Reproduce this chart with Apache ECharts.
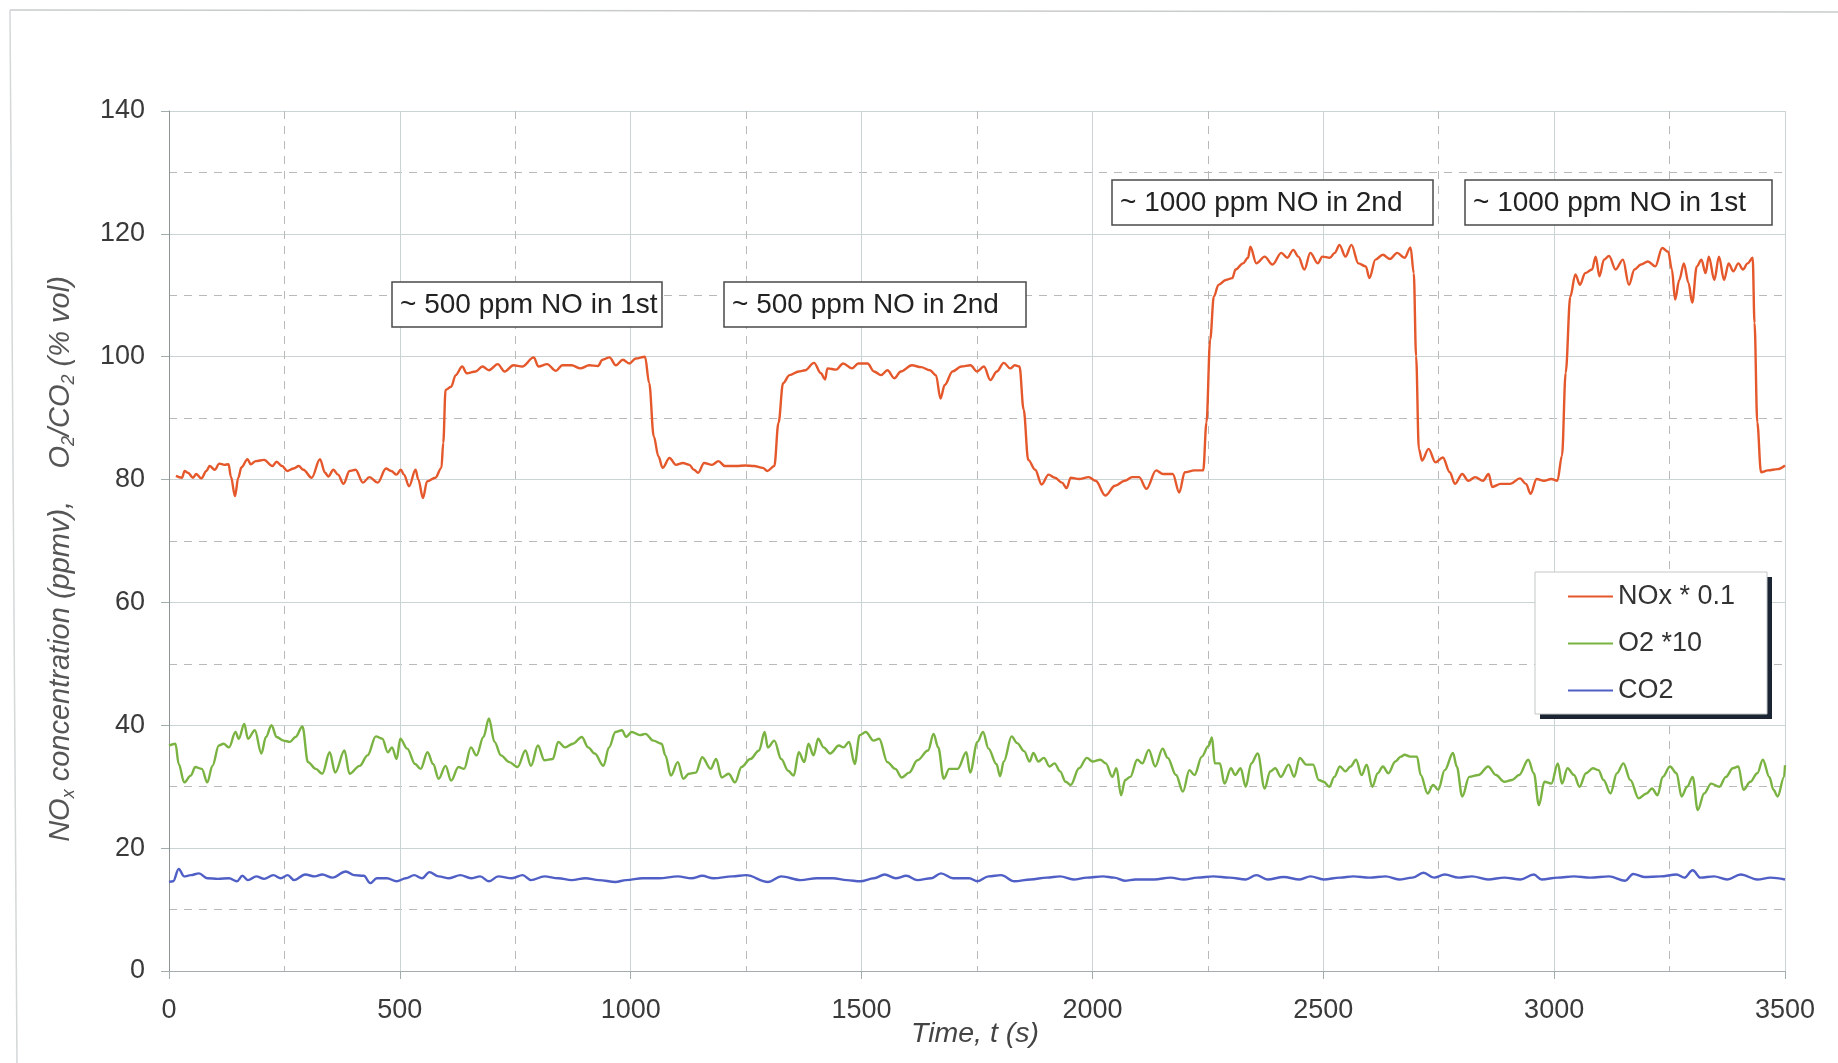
<!DOCTYPE html>
<html>
<head>
<meta charset="utf-8">
<title>NOx, O2 and CO2 concentration versus time</title>
<script src="https://cdn.jsdelivr.net/npm/echarts@6/dist/echarts.min.js"></script>
<style>
  html, body { margin: 0; padding: 0; background: #ffffff; }
  #chart { width: 1838px; height: 1063px; }
</style>
</head>
<body>
<div id="chart"></div>
<script>
// ---- data: [time (s), value] ----
const noxTime = [15,28,34,41,52,59,70,81,88,99,109,120,129,134,143,150,157,170,177,188,206,224,233,245,256,270,281,291,309,327,338,345,356,366,378,391,404,420,434,452,470,481,493,502,509,520,534,540,550,559,577,590,
  594,599,611,621,635,645,664,679,693,712,727,746,765,790,800,819,838,852,872,891,910,929,939,954,968,983,997,1011,1031,1040,1050,1060,1069,1084,1098,1113,1127,1137,1146,1159,1176,1190,1204,1229,1248,1267,1286,1296,1311,1320,1330,1344,1364,1378,1397,1412,1421,1426,1445,1460,1479,1493,1513,1527,1542,1556,1571,1585,1609,1629,1648,1661,1671,1680,1697,1716,1736,1750,1765,1779,1793,1808,1822,1832,1842,1851,1861,1876,1890,1905,1919,1934,1944,1953,
  1971,1992,2007,2028,2049,2070,2086,2101,2117,2138,2153,2174,2188,2200,2221,2240,2247,2255,2263,2273,2289,2303,2310,2326,2337,2342,2355,2373,2390,2409,2422,2435,2446,2459,2472,2488,2498,2514,2525,2535,2548,2561,2576,2592,2600,2613,2629,2644,2660,2676,2689,2696,2701,2707,2714,2728,2743,2759,2774,2785,2801,2814,2829,2846,2858,2866,2884,2905,2926,2939,2949,2962,2978,2994,3007,3017,3025,3035,3046,3056,3067,3082,3090,3098,3108,3119,3133,3149,3162,3174,3188,3203,3219,3234,3247,3255,3262,3271,3281,3291,3299,3309,3319,3328,3335,3347,3357,3368,3378,3388,3399,3409,3419,3430,3434,3440,3448,3463,3484,3500];
const noxValue = [80.6,80.3,81.4,81.1,80.3,80.9,80.2,81.4,82.2,81.6,82.6,82.4,82.5,80.5,77.3,80.3,82,83.3,82.5,83,83.2,82.2,82.9,82.2,81.4,81.8,82.2,81.6,80.3,83.3,81.1,80.5,81.6,80.8,79.3,81.4,81.6,79.5,80.4,79.5,81.8,81.4,80.8,81.6,80.8,78.9,81.6,80,77,79.7,80.3,81.9,
  86,94.6,95.1,97,98.4,97.3,97.6,98.4,97.8,98.8,97.6,98.6,98.4,99.9,98.4,98.8,97.7,98.6,98.6,98.1,98.6,98.5,99.5,99.9,98.6,99.5,98.9,99.7,100,95.7,87,83.8,81.9,83.5,82.4,82.7,82.4,81.6,81.1,82.7,82.4,83,82.2,82.2,82.3,82.2,81.9,81.4,82.2,89.2,95.7,97,97.6,97.8,99,97.3,96.3,98.1,97.9,98.9,98.1,98.9,98.9,97.6,97,97.8,96.5,97.6,98.6,98.3,97.8,97,93.2,95.4,97.6,98.4,98.6,97.6,98.4,96.2,97.6,99,98.1,98.6,98.4,91.4,83.2,81.6,79.2,80.8,80.3,79.5,78.6,80.3,
  80.1,80.4,79.8,77.4,79,79.8,80.4,80.4,78.5,81.5,80.9,80.9,77.9,81.2,81.5,81.5,89.3,102.8,109.8,111.7,112.5,112.8,114.2,115.2,116.1,117.9,115.2,116.3,115,116.9,116.1,117.4,116.3,114.2,116.9,115.2,116.3,116.1,116.9,118.2,116.3,118.2,115.2,114.7,112.8,115.8,116.6,115.9,116.9,116.1,117.8,113.6,100.1,85,83.1,85,82.8,83.6,81.2,79.3,80.9,79.8,80.4,79.8,80.9,78.8,79.3,79.3,80.2,79.3,77.7,80.1,79.8,80.1,79.8,83.9,97.4,109.8,113.4,111.7,113.6,114.2,116.3,113.1,115.8,116.4,114.2,115.8,111.7,114.2,115,115.5,114.7,117.7,117.1,114.2,109.3,112.5,115.2,112,108.8,114.7,115.8,113.6,116.3,112.5,116.3,112.5,115.2,113.9,115.2,114.2,115.2,116.1,105.5,89.3,81.2,81.5,81.7,82.3];

const o2Points = [[0,36.7],[14,37],[21,33.7],[33,30.7],[47,31.8],[57,33.2],[71,32.9],[83,30.7],[94,33.4],[108,36.7],[118,37],[130,36.4],[144,38.9],[151,37.8],[163,40.2],[171,37.8],[186,39.2],[200,35.4],[210,38.1],[222,40],[233,38.1],[248,37.5],[262,37.3],[274,38.1],[289,39.8],[301,34],[318,32.9],[332,32.1],[348,35.6],[360,32.3],[380,35.9],[391,32.1],[413,33.4],[430,35.1],[448,38.2],[462,37.8],[474,35.6],[483,36.4],[493,34.5],[501,37.8],[516,36.2],[533,33.7],[545,32.9],[560,35.6],[572,33.7],[584,31.3],[599,33.4],[611,31],[627,33.2],[639,32.9],[654,36.4],[666,35.1],[681,38.1],[693,41.1],[705,37.3],[719,35.1],[737,34],[755,33.2],[772,35.9],[784,33.4],[799,36.7],[813,34.3],[831,34.5],[843,37.3],[858,36.4],[875,37],[894,38.1],[908,36.4],[922,35.4],[941,33.4],[953,36.4],[967,38.9],[981,39.2],[990,38.1],[1002,38.9],[1020,38.4],[1032,38.6],[1049,37.5],[1067,37],[1075,35.1],[1087,31.8],[1102,34],[1114,31.3],[1126,32.1],[1141,32.3],[1155,34.8],[1173,32.9],[1185,34.5],[1197,31.5],[1212,32.1],[1226,30.7],[1240,33.2],[1259,34.5],[1278,35.9],[1290,38.9],[1297,36.4],[1311,37.5],[1326,34.5],[1341,32.6],[1353,31.8],[1364,35.6],[1376,34],[1385,37],[1396,35.1],[1406,37.8],[1418,36.4],[1432,35.4],[1451,36.7],[1461,36.4],[1473,37.3],[1485,33.7],[1496,38.4],[1509,38.9],[1526,37.5],[1538,37.8],[1556,34],[1573,32.9],[1587,31.5],[1603,32.3],[1621,34.3],[1644,35.9],[1656,38.6],[1666,36.4],[1678,31.3],[1690,32.9],[1708,32.9],[1727,35.6],[1735,32.3],[1751,37.3],[1763,38.9],[1775,36.2],[1792,33.7],[1800,31.7],[1808,34.1],[1825,38.2],[1837,37.1],[1852,35.8],[1864,34.1],[1872,35.5],[1883,34.1],[1895,34.7],[1907,33.3],[1918,33.8],[1930,32.5],[1942,30.8],[1953,30.3],[1971,33],[1988,34.7],[2000,34.1],[2017,34.4],[2029,33.8],[2043,31.6],[2052,33],[2062,28.6],[2071,31.1],[2082,31.6],[2097,34.4],[2108,33.8],[2122,36],[2136,33.3],[2152,36.2],[2163,34.7],[2181,31.9],[2196,29.2],[2210,32.7],[2221,31.9],[2237,34.9],[2251,36.6],[2259,38],[2265,33.8],[2276,33.8],[2286,30.5],[2300,33],[2309,31.9],[2321,33],[2332,30],[2344,33.8],[2358,35.4],[2373,29.7],[2385,32.5],[2396,33],[2408,31.6],[2425,33.6],[2437,31.6],[2449,34.7],[2463,33.6],[2478,33.6],[2490,31.1],[2501,30.8],[2513,30],[2524,31.6],[2536,33.3],[2548,32.5],[2559,33.3],[2571,34.4],[2583,31.9],[2594,33.6],[2606,30],[2618,32.2],[2629,33.3],[2641,32.2],[2656,34.1],[2668,34.9],[2676,35.2],[2688,34.9],[2703,34.9],[2711,31.9],[2726,28.9],[2738,30.3],[2749,29.5],[2763,32.7],[2781,35.5],[2789,33.3],[2801,28.4],[2816,31.6],[2836,31.9],[2857,33.3],[2874,31.9],[2892,30.8],[2909,31.1],[2924,31.9],[2944,34.4],[2956,32.2],[2967,27],[2979,30.8],[2994,30.5],[3008,33.8],[3017,30.5],[3029,33],[3043,31.9],[3055,30],[3069,32.2],[3084,33],[3096,32.7],[3107,31.1],[3122,28.9],[3136,32.2],[3150,33.8],[3165,31.1],[3183,28.1],[3200,28.9],[3212,29.7],[3224,28.6],[3235,31.6],[3251,33.3],[3265,32.2],[3276,28.4],[3288,30],[3300,31.6],[3311,26.2],[3325,28.9],[3340,30.5],[3358,30],[3372,31.6],[3387,33],[3399,33.3],[3410,29.5],[3425,30.8],[3440,32.2],[3452,34.4],[3466,31.6],[3475,29.5],[3484,28.4],[3498,31.6],[3500,33.5]];

const co2Points = [[0,14.5],[9,14.6],[21,16.6],[33,15.4],[47,15.6],[65,15.9],[83,15.1],[106,15],[130,15.1],[147,14.6],[159,15.5],[171,14.8],[189,15.4],[206,15],[226,15.6],[242,15.1],[257,15.6],[271,14.8],[295,15.7],[316,15.4],[332,15.7],[354,15.2],[383,16.2],[401,15.6],[422,15.5],[436,14.3],[450,15.1],[472,15.1],[493,14.6],[513,15.1],[531,15.6],[548,15.1],[564,16.1],[584,15.4],[607,15.1],[631,15.6],[654,15.1],[674,15.4],[693,14.6],[713,15.4],[743,15.1],[766,15.6],[784,14.8],[813,15.4],[843,15.1],[872,14.8],[902,15.1],[931,14.8],[967,14.5],[990,14.8],[1026,15.1],[1061,15.1],[1102,15.4],[1132,15.1],[1155,15.5],[1179,15.1],[1220,15.4],[1250,15.6],[1297,14.5],[1326,15.4],[1368,14.8],[1403,15.1],[1438,15.1],[1468,14.8],[1497,14.6],[1527,15.1],[1550,15.7],[1574,15.1],[1597,15.5],[1621,14.8],[1651,15.1],[1672,15.9],[1698,15.1],[1733,15.1],[1751,14.6],[1775,15.4],[1802,15.6],[1831,14.6],[1866,14.9],[1901,15.2],[1930,15.4],[1959,14.9],[1988,15.2],[2023,15.4],[2047,15.2],[2070,14.7],[2093,14.9],[2134,14.9],[2169,15.2],[2198,14.9],[2227,15.2],[2262,15.4],[2297,15.2],[2332,14.9],[2355,15.6],[2379,14.9],[2414,15.3],[2449,14.9],[2472,15.4],[2501,14.9],[2536,15.2],[2565,15.4],[2600,15.2],[2635,15.4],[2664,14.9],[2693,15.2],[2717,16],[2740,15.2],[2763,15.7],[2793,15.2],[2822,15.4],[2857,14.9],[2892,15.2],[2927,14.9],[2956,15.7],[2973,14.9],[3008,15.2],[3043,15.4],[3078,15.2],[3119,15.4],[3154,14.7],[3171,15.8],[3195,15.3],[3230,15.4],[3265,15.7],[3282,15.2],[3300,16.4],[3317,15.2],[3346,15.4],[3375,14.9],[3404,15.7],[3440,14.9],[3469,15.2],[3500,14.9]];

const seriesNames = ['NOx * 0.1', 'O2 *10', 'CO2'];
const seriesColors = ['#e4582c', '#7ab342', '#4f5fc6'];
const annotationTexts = ['~ 500 ppm NO in 1st', '~ 500 ppm NO in 2nd', '~ 1000 ppm NO in 2nd', '~ 1000 ppm NO in 1st'];

// ---- chart ----
const FONT = '"Liberation Sans", Arial, sans-serif';
const noxPoints = noxTime.map((t, i) => [t, noxValue[i]]);

const chart = echarts.init(document.getElementById('chart'), null, { renderer: 'canvas' });

// annotation boxes (pixel layout)
const annoLayout = [
  { x: 392, y: 282, w: 270 },
  { x: 724, y: 282, w: 302 },
  { x: 1112, y: 180, w: 321 },
  { x: 1465, y: 180, w: 307 }
];
const annoGraphics = [];
annotationTexts.forEach((txt, i) => {
  const b = annoLayout[i];
  annoGraphics.push({
    type: 'rect', z: 5,
    shape: { x: b.x, y: b.y, width: b.w, height: 45 },
    style: { fill: '#ffffff', stroke: '#4a4a4a', lineWidth: 1.5 }
  });
  annoGraphics.push({
    type: 'text', z: 6, x: b.x + 8, y: b.y + 23,
    style: { text: txt, fill: '#222222', font: '28px ' + FONT, align: 'left', verticalAlign: 'middle' }
  });
});

const axisLabelStyle = { fontSize: 27, color: '#3a3a3a', fontFamily: FONT };
const majorGrid = { color: '#cbd4d4', width: 1 };
const minorGrid = { color: '#b9b9b9', width: 1, type: [8, 7] };

const option = {
  backgroundColor: '#ffffff',
  animation: false,
  color: seriesColors,
  grid: { left: 169, top: 111, right: 53, bottom: 92 },
  xAxis: {
    type: 'value', min: 0, max: 3500, interval: 500,
    axisLine: { show: true, lineStyle: { color: '#a3adad', width: 1 } },
    axisTick: { show: true, length: 8, lineStyle: { color: '#a3adad' } },
    axisLabel: Object.assign({ margin: 26, formatter: v => String(v) }, axisLabelStyle),
    splitLine: { show: true, lineStyle: majorGrid },
    minorTick: { show: false, splitNumber: 2 },
    minorSplitLine: { show: true, lineStyle: minorGrid }
  },
  yAxis: {
    type: 'value', min: 0, max: 140, interval: 20,
    axisLine: { show: true, lineStyle: { color: '#8e9494', width: 1 } },
    axisTick: { show: true, length: 8, lineStyle: { color: '#a3adad' } },
    axisLabel: Object.assign({ margin: 24 }, axisLabelStyle),
    splitLine: { show: true, lineStyle: majorGrid },
    minorTick: { show: false, splitNumber: 2 },
    minorSplitLine: { show: true, lineStyle: minorGrid }
  },
  legend: {
    orient: 'vertical', left: 1563, top: 576, z: 10,
    icon: 'rect', itemWidth: 45, itemHeight: 2, itemGap: 16,
    textStyle: { fontSize: 27, color: '#333333', fontFamily: FONT, lineHeight: 31 },
    data: seriesNames
  },
  series: [
    { name: seriesNames[0], data: noxPoints },
    { name: seriesNames[1], data: o2Points },
    { name: seriesNames[2], data: co2Points }
  ].map((s, i) => Object.assign({
    type: 'line', showSymbol: false, symbol: 'none',
    smooth: 0.35, smoothMonotone: 'x',
    lineStyle: { color: seriesColors[i], width: 2.4 },
    itemStyle: { color: seriesColors[i] },
    z: 3 - i
  }, s)),
  graphic: [
    // sheet border
    { type: 'line', z: 1, shape: { x1: 10, y1: 10, x2: 1838, y2: 12 }, style: { stroke: '#c9cccc', lineWidth: 1.5 } },
    { type: 'line', z: 1, shape: { x1: 10, y1: 10, x2: 17, y2: 1063 }, style: { stroke: '#d4d8d8', lineWidth: 1.5 } },
    // legend frame with drop shadow
    { type: 'rect', z: 8, shape: { x: 1540, y: 577, width: 232, height: 142 }, style: { fill: '#1b2433' } },
    { type: 'rect', z: 9, shape: { x: 1535, y: 572, width: 232, height: 142 }, style: { fill: '#ffffff', stroke: '#c4c8c8', lineWidth: 1 } },
    // y axis title
    {
      type: 'text', z: 6, x: 61, y: 559, rotation: Math.PI / 2,
      style: {
        text: '{a|NO}{s|x}{a| concentration (ppmv),    O}{s|2}{a|/CO}{s|2}{a| (% vol)}',
        align: 'center', verticalAlign: 'middle',
        rich: {
          a: { fontSize: 29, fontStyle: 'italic', fontFamily: FONT, fill: '#555555', lineHeight: 34 },
          s: { fontSize: 18, fontStyle: 'italic', fontFamily: FONT, fill: '#555555', verticalAlign: 'bottom' }
        }
      }
    },
    // x axis title
    {
      type: 'text', z: 6, x: 975, y: 1034,
      style: { text: 'Time, t (s)', fill: '#444444', font: 'italic 28.5px ' + FONT, align: 'center', verticalAlign: 'middle' }
    }
  ].concat(annoGraphics)
};

chart.setOption(option);
</script>
</body>
</html>
